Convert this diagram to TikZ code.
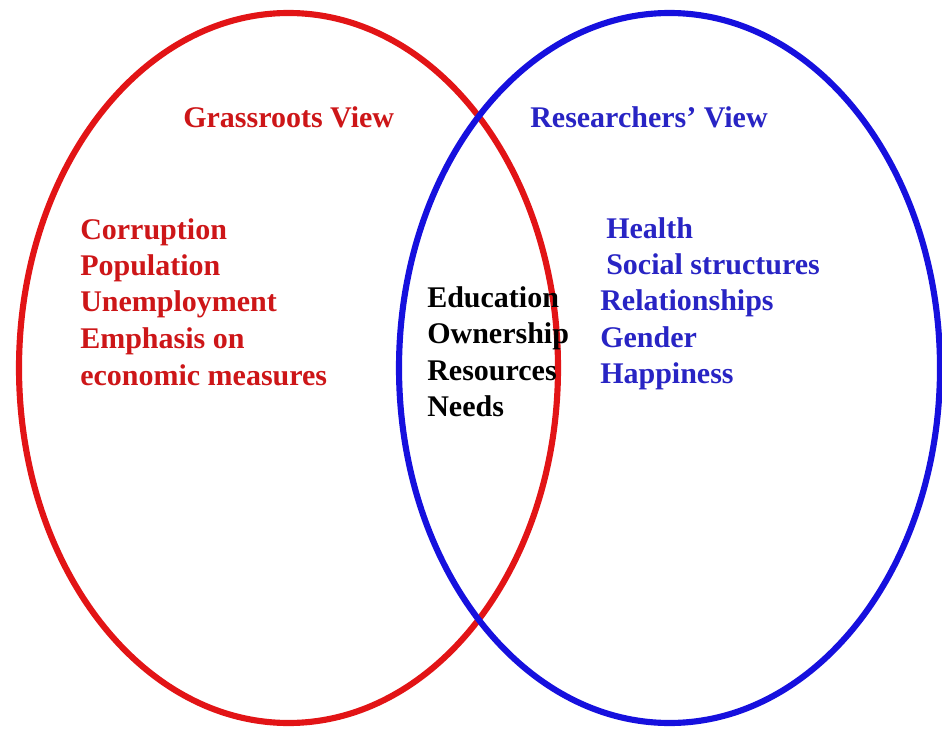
\documentclass[tikz,border=0pt]{standalone}
\usepackage{fontspec}
\setmainfont{Liberation Serif}
\usetikzlibrary{positioning}

\definecolor{gredline}{RGB}{226,20,22}
\definecolor{bblueline}{RGB}{22,16,222}
\definecolor{gredtext}{RGB}{205,22,24}
\definecolor{bbluetext}{RGB}{40,36,196}

\tikzset{
  item/.style={anchor=base west,inner sep=0pt,font=\fontsize{22.5}{27}\selectfont\bfseries},
  redview/.style={item,text=gredtext},
  blueview/.style={item,text=bbluetext},
  shared/.style={item,text=black}
}

\begin{document}
\begin{tikzpicture}[x=0.75pt,y=0.75pt,yscale=-1,xscale=1]
\useasboundingbox (0,0) rectangle (942,731);

%Ellipses
\draw [color=gredline, line width=4.6] (288.5,368) ellipse (269.5 and 355);
\draw [color=bblueline, line width=4.6] (669.5,368) ellipse (270.5 and 355);

% Text Node
\node [redview] (grassroots) at (183,128) {Grassroots View};
% Text Node
\node [blueview] (researchers) at (530,128) {Researchers' View};

% Text Node
\node [redview] (corruption) at (80,239) {Corruption};
\node [redview] (population) at (80,275) {Population};
\node [redview] (unemployment) at (80,311) {Unemployment};
\node [redview] (emphasis) at (80,348) {Emphasis on};
\node [redview] (economic) at (80,385) {economic measures};

% Text Node
\node [shared] (education) at (427,307) {Education};
\node [shared] (ownership) at (427,343.5) {Ownership};
\node [shared] (resources) at (427,380) {Resources};
\node [shared] (needs) at (427,416) {Needs};

% Text Node
\node [blueview] (health) at (606,238) {Health};
\node [blueview] (social) at (606,274) {Social structures};
\node [blueview] (relationships) at (600,310) {Relationships};
\node [blueview] (gender) at (600,347) {Gender};
\node [blueview] (happiness) at (600,383) {Happiness};

\end{tikzpicture}
\end{document}
